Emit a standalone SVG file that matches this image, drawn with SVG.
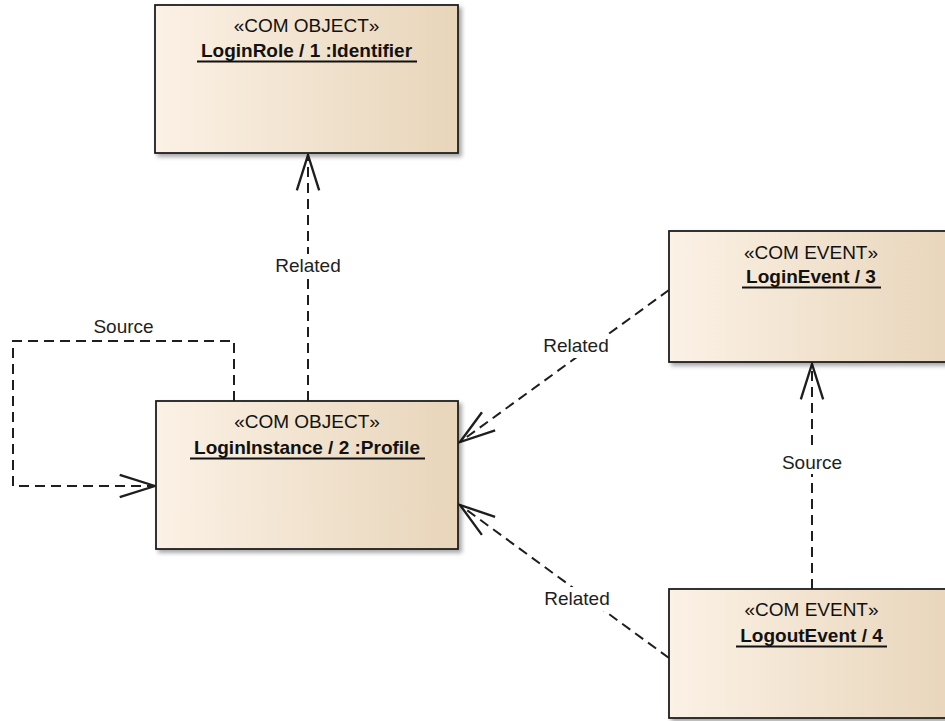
<svg xmlns="http://www.w3.org/2000/svg" width="945" height="721" viewBox="0 0 945 721">
  <style>
    .box { fill: url(#nodeFill); stroke: #1e1e1e; stroke-width: 1.8; filter: url(#shadow); }
    .stereo { font-family: "Liberation Sans", Arial, sans-serif; font-size: 19px; fill: #111; text-anchor: middle; }
    .name { font-family: "Liberation Sans", Arial, sans-serif; font-size: 19px; font-weight: bold; fill: #111; text-anchor: middle; }
    .uline { stroke: #111; stroke-width: 1.8; }
    .conn { fill: none; stroke: #1e1e1e; stroke-width: 2; stroke-dasharray: 10 6; }
    .lblbg { fill: #ffffff; }
    .lbl { font-family: "Liberation Sans", Arial, sans-serif; font-size: 19px; fill: #1e1e1e; text-anchor: middle; }
  </style>
  <defs>
    <linearGradient id="nodeFill" x1="0" y1="0" x2="1" y2="0">
      <stop offset="0" stop-color="#fbf1e5"/>
      <stop offset="1" stop-color="#e8d5ba"/>
    </linearGradient>
    <filter id="shadow" x="-5%" y="-5%" width="115%" height="120%">
      <feDropShadow dx="3" dy="3" stdDeviation="2" flood-color="#000" flood-opacity="0.35"/>
    </filter>
    <marker id="open" markerUnits="userSpaceOnUse" markerWidth="40" markerHeight="30" refX="0" refY="0" viewBox="-32 -12 34 24" orient="auto">
      <path d="M-30,-9.5 L0,0 L-30,9.5" fill="none" stroke="#1e1e1e" stroke-width="2" stroke-dasharray="none"/>
    </marker>
  </defs>

  <rect width="945" height="721" fill="#ffffff"/>

  <!-- connectors -->
  <g id="connectors">
    <path class="conn" d="M308,401 L308,155" marker-end="url(#open)"/>
    <path class="conn" d="M234,401 L234,341 L13,341 L13,486 L155,486" marker-end="url(#open)"/>
    <path class="conn" d="M669,290 L460,442" marker-end="url(#open)"/>
    <path class="conn" d="M669,658 L460,505" marker-end="url(#open)"/>
    <path class="conn" d="M812,589 L812,364" marker-end="url(#open)"/>

    <rect class="lblbg" x="273" y="254" width="70" height="24"/>
    <text class="lbl" x="308" y="272">Related</text>
    <rect class="lblbg" x="91" y="314" width="65" height="24"/>
    <text class="lbl" x="123.5" y="333">Source</text>
    <rect class="lblbg" x="540" y="334" width="72" height="24"/>
    <text class="lbl" x="576" y="352">Related</text>
    <rect class="lblbg" x="541" y="587" width="72" height="24"/>
    <text class="lbl" x="577" y="605">Related</text>
    <rect class="lblbg" x="779" y="450" width="66" height="24"/>
    <text class="lbl" x="812" y="469">Source</text>
  </g>

  <!-- LoginRole -->
  <g id="loginRole">
    <rect class="box" x="155" y="5" width="303" height="148"/>
    <text class="stereo" x="306.5" y="32">«COM OBJECT»</text>
    <text class="name" x="306.5" y="57">LoginRole / 1 :Identifier</text>
    <line class="uline" x1="197" y1="61.5" x2="417" y2="61.5"/>
  </g>

  <!-- LoginInstance -->
  <g id="loginInstance">
    <rect class="box" x="156" y="401" width="302" height="148"/>
    <text class="stereo" x="307" y="428">«COM OBJECT»</text>
    <text class="name" x="307" y="454">LoginInstance / 2 :Profile</text>
    <line class="uline" x1="190" y1="458.5" x2="425" y2="458.5"/>
  </g>

  <!-- LoginEvent -->
  <g id="loginEvent">
    <rect class="box" x="669" y="231" width="290" height="131"/>
    <text class="stereo" x="811" y="259">«COM EVENT»</text>
    <text class="name" x="811" y="283">LoginEvent / 3</text>
    <line class="uline" x1="742" y1="287.5" x2="881" y2="287.5"/>
  </g>

  <!-- LogoutEvent -->
  <g id="logoutEvent">
    <rect class="box" x="669" y="589" width="290" height="129"/>
    <text class="stereo" x="811.5" y="616">«COM EVENT»</text>
    <text class="name" x="811.5" y="642">LogoutEvent / 4</text>
    <line class="uline" x1="736" y1="646.5" x2="887" y2="646.5"/>
  </g>
</svg>
